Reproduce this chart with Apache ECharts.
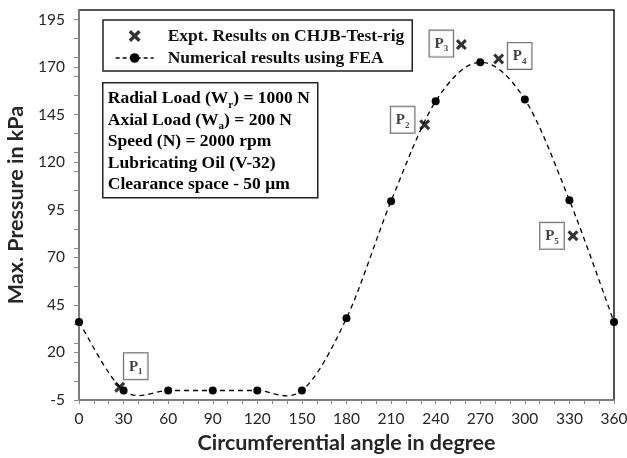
<!DOCTYPE html>
<html>
<head>
<meta charset="utf-8">
<script src="https://cdn.jsdelivr.net/npm/echarts@6/dist/echarts.min.js"></script>
<style>
html,body{margin:0;padding:0;background:#fff;}
#chart{width:627px;height:458px;}
</style>
</head>
<body>
<div id="chart"></div>
<script>
// ---- data ----
const feaAngles = [0, 30, 60, 90, 120, 150, 180, 210, 240, 270, 300, 330, 360];
const feaPressure = [36, 0, 0, 0, 0, 0, 38, 99.5, 152, 172.5, 153, 100, 36];
const exptAngles = [27.4, 232.6, 257.3, 282.4, 332.4];
const exptPressure = [1.7, 139.7, 181.8, 174.3, 81.3];
const exptLabels = ['1', '2', '3', '4', '5'];
const xTickLabels = [0, 30, 60, 90, 120, 150, 180, 210, 240, 270, 300, 330, 360];
const xMinorTicks = [0,10,20,30,40,50,60,70,80,90,100,110,120,130,140,150,160,170,180,190,200,210,220,230,240,250,260,270,280,290,300,310,320,330,340,350,360];
const yTickLabels = [-5, 20, 45, 70, 95, 120, 145, 170, 195];
const yMinorTicks = [-5, 5, 15, 25, 35, 45, 55, 65, 75, 85, 95, 105, 115, 125, 135, 145, 155, 165, 175, 185, 195];
const infoLines = [
  '{b|Radial Load (W}{s|r}{b|) = 1000 N}',
  '{b|Axial Load (W}{s|a}{b|) = 200 N}',
  '{b|Speed (N) = 2000 rpm}',
  '{b|Lubricating Oil (V-32)}',
  '{b|Clearance space - 50 μm}'
];
const seriesNames = ['Expt. Results on CHJB-Test-rig', 'Numerical results using FEA'];

// ---- styling (not data) ----
const labelOffsets = [[16, -21], [-22, -5], [-20, -1], [21, -3], [-21, 0]];
const crossPath = 'path://M0,2 L2,0 L5,3 L8,0 L10,2 L7,5 L10,8 L8,10 L5,7 L2,10 L0,8 L3,5 Z';
const serif = 'Liberation Serif';
const sans = 'Lato';
const dash = [5, 4];

const ySet = Array.from(new Set(yTickLabels.concat(yMinorTicks))).sort((a, b) => a - b);
const xSet = Array.from(new Set(xTickLabels.concat(xMinorTicks))).sort((a, b) => a - b);

// dashed curve through the FEA points (cubic Catmull-Rom style bezier, in pixel space)
function renderCurve(params, api) {
  if (params.dataIndexInside !== 0) return null;
  const n = params.dataInsideLength;
  const pts = [];
  for (let j = 0; j < n; j++) pts.push(api.coord([api.value(0, j), api.value(1, j)]));
  let d = 'M' + pts[0][0] + ',' + pts[0][1];
  for (let j = 0; j < n - 1; j++) {
    const p0 = pts[Math.max(j - 1, 0)], p1 = pts[j], p2 = pts[j + 1], p3 = pts[Math.min(j + 2, n - 1)];
    const c1 = [p1[0] + (p2[0] - p0[0]) / 6, p1[1] + (p2[1] - p0[1]) / 6];
    const c2 = [p2[0] - (p3[0] - p1[0]) / 6, p2[1] - (p3[1] - p1[1]) / 6];
    d += ' C' + c1[0] + ',' + c1[1] + ' ' + c2[0] + ',' + c2[1] + ' ' + p2[0] + ',' + p2[1];
  }
  return {type: 'path', shape: {pathData: d}, style: {fill: null, stroke: '#000', lineWidth: 1.3, lineDash: dash}};
}

const chart = echarts.init(document.getElementById('chart'), null, {renderer: 'canvas'});
const option = {
  animation: false,
  backgroundColor: '#fff',
  grid: {left: 79, right: 13, top: 10, bottom: 58, outerBoundsMode: 'none', containLabel: false, show: true, borderColor: '#1a1a1a', borderWidth: 1.5, backgroundColor: 'transparent'},
  legend: {
    orient: 'vertical', left: 103, top: 20,
    padding: [7, 8, 4, 12], itemGap: 4, itemWidth: 38, itemHeight: 12,
    borderColor: '#222', borderWidth: 1.5, backgroundColor: '#fff',
    textStyle: {fontFamily: serif, fontWeight: 'bold', fontSize: 17.5, lineHeight: 18, color: '#111', padding: [0, 0, 0, 9]},
    data: [
      {name: seriesNames[0], icon: crossPath},
      {name: seriesNames[1], lineStyle: {color: '#000', width: 1.3, type: [4, 3], opacity: 1}}
    ]
  },
  xAxis: {
    type: 'value', min: 0, max: 360,
    name: 'Circumferential angle in degree', nameLocation: 'middle', nameGap: 28,
    nameTextStyle: {fontFamily: sans, fontWeight: 'bold', fontSize: 21.5, color: '#262626'},
    axisLine: {show: true, onZero: false, lineStyle: {color: '#8a8a8a', width: 1.5}},
    axisTick: {show: true, length: 4, lineStyle: {color: '#8a8a8a'}, customValues: xSet},
    axisLabel: {customValues: xTickLabels, margin: 11, fontFamily: sans, fontSize: 15.5, color: '#262626'},
    splitLine: {show: false}
  },
  yAxis: {
    type: 'value', min: -5, max: 200,
    name: 'Max. Pressure in kPa', nameLocation: 'middle', nameGap: 41,
    nameTextStyle: {fontFamily: sans, fontWeight: 'bold', fontSize: 21.5, color: '#262626'},
    axisLine: {show: true, onZero: false, lineStyle: {color: '#8a8a8a', width: 1.5}},
    axisTick: {show: true, length: 5, lineStyle: {color: '#8a8a8a'}, customValues: ySet},
    axisLabel: {customValues: yTickLabels, margin: 14, fontFamily: sans, fontSize: 15.5, color: '#262626'},
    splitLine: {show: false}
  },
  graphic: [{
    type: 'group', left: 102, top: 82,
    children: [
      {type: 'rect', shape: {x: 0, y: 0, width: 215, height: 115}, style: {fill: '#fff', stroke: '#222', lineWidth: 1.5}},
      {type: 'text', x: 5, y: 5, style: {
        text: infoLines.join('\n'),
        rich: {
          b: {fontFamily: serif, fontWeight: 'bold', fontSize: 17.5, color: '#111', lineHeight: 21.5},
          s: {fontFamily: serif, fontWeight: 'bold', fontSize: 11, color: '#111', lineHeight: 21.5, verticalAlign: 'bottom', padding: [0, 0, -1, 0]}
        }
      }}
    ]
  }],
  series: [
    {
      name: 'FEA curve', type: 'custom', z: 2,
      data: feaAngles.map((a, i) => [a, feaPressure[i]]),
      encode: {x: 0, y: 1},
      renderItem: renderCurve,
      silent: true
    },
    {
      name: seriesNames[1], type: 'line', z: 3,
      data: feaAngles.map((a, i) => [a, feaPressure[i]]),
      symbol: 'circle', symbolSize: 8,
      itemStyle: {color: '#000'},
      lineStyle: {color: '#000', width: 0, opacity: 0}
    },
    {
      name: seriesNames[0], type: 'scatter', z: 5,
      symbol: crossPath, symbolSize: 11,
      itemStyle: {color: '#000'},
      data: exptAngles.map((a, i) => ({
        value: [a, exptPressure[i]],
        label: {
          show: true, position: 'inside', offset: labelOffsets[i],
          formatter: '{p|P}{s|' + exptLabels[i] + '}',
          backgroundColor: '#fff', borderColor: '#444', borderWidth: 1,
          padding: [4, 5, 3, 5],
          rich: {
            p: {fontFamily: serif, fontWeight: 'bold', fontSize: 15, color: '#111', lineHeight: 19},
            s: {fontFamily: serif, fontWeight: 'bold', fontSize: 9, color: '#111', lineHeight: 19, verticalAlign: 'bottom'}
          }
        }
      }))
    }
  ]
};
chart.setOption(option);
</script>
</body>
</html>
